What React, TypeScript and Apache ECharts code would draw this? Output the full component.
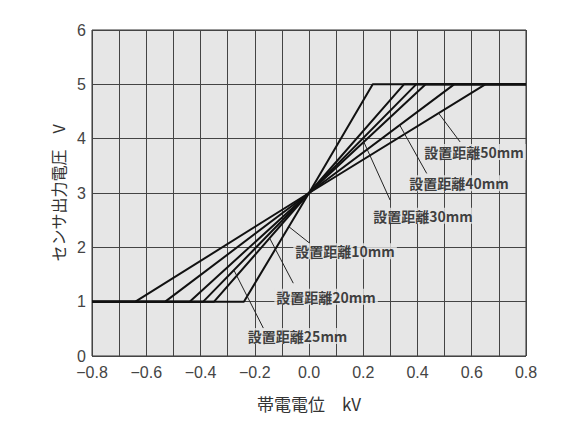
import { useEffect, useRef } from 'react';
import * as echarts from 'echarts';

// 設置距離ごとのセンサ出力特性
const distances = ['10mm', '20mm', '25mm', '30mm', '40mm', '50mm'];
// 出力が 1 V から立ち上がる帯電電位 (kV)
const riseStart = [-0.24, -0.35, -0.39, -0.44, -0.53, -0.64];
// 出力が 5 V に達する帯電電位 (kV)
const riseEnd = [0.235, 0.35, 0.395, 0.43, 0.535, 0.65];
const outLow = 1;
const outMid = 3;
const outHigh = 5;
const kvMin = -0.8;
const kvMax = 0.8;

// 引出線: 曲線上の出力値 anchorV から end まで、ラベル中心 at
const notes = [
  { i: 0, anchorV: 2.38, end: [0.004, 2.07], at: [0.133, 1.93] },
  { i: 1, anchorV: 2.17, end: [-0.058, 1.34], at: [0.063, 1.09] },
  { i: 2, anchorV: 1.58, end: [-0.168, 0.51], at: [-0.042, 0.37] },
  { i: 3, anchorV: 3.94, end: [0.299, 2.87], at: [0.42, 2.58] },
  { i: 4, anchorV: 4.25, end: [0.434, 3.36], at: [0.553, 3.18] },
  { i: 5, anchorV: 4.47, end: [0.557, 3.94], at: [0.608, 3.755] },
];

const pointOn = (i: number, v: number) =>
  v >= outMid
    ? (riseEnd[i] * (v - outMid)) / (outHigh - outMid)
    : (riseStart[i] * (outMid - v)) / (outMid - outLow);

const plotBg = '#e6e6e6';
const gridLine = { color: '#444', width: 1 };

export default function App() {
  const el = useRef<HTMLDivElement>(null);

  useEffect(() => {
    if (!el.current) return;
    const chart = echarts.init(el.current, null, { renderer: 'svg' });

    const curves = distances.map((d, i) => ({
      type: 'line',
      name: d,
      data: [
        [kvMin, outLow],
        [riseStart[i], outLow],
        [0, outMid],
        [riseEnd[i], outHigh],
        [kvMax, outHigh],
      ],
      symbol: 'none',
      silent: true,
      z: 3,
      lineStyle: { color: '#111', width: 2 },
    }));

    chart.setOption({
      animation: false,
      grid: {
        left: 92,
        top: 30,
        right: 57,
        bottom: 81,
        show: true,
        backgroundColor: plotBg,
        borderColor: '#333',
        borderWidth: 1,
      },
      xAxis: {
        type: 'value',
        min: kvMin,
        max: kvMax,
        interval: 0.2,
        name: '帯電電位　kV',
        nameLocation: 'middle',
        nameGap: 39,
        nameTextStyle: {
          fontSize: 17,
          color: '#333',
          fontFamily: 'Noto Sans CJK JP',
        },
        axisLine: { show: false },
        axisTick: { show: false },
        axisLabel: {
          fontSize: 16,
          color: '#444',
          margin: 8,
          fontFamily: 'Liberation Sans',
          formatter: (v: number) => (v < 0 ? '−' : '') + Math.abs(v).toFixed(1),
        },
        splitLine: { show: true, lineStyle: gridLine },
        minorTick: { show: false, splitNumber: 2 },
        minorSplitLine: { show: true, lineStyle: gridLine },
      },
      yAxis: {
        type: 'value',
        min: 0,
        max: 6,
        interval: 1,
        name: 'センサ出力電圧　V',
        nameLocation: 'middle',
        nameGap: 26,
        nameTextStyle: {
          fontSize: 16,
          color: '#333',
          fontFamily: 'Noto Sans CJK JP',
        },
        axisLine: { show: false },
        axisTick: { show: false },
        axisLabel: {
          fontSize: 16,
          color: '#444',
          margin: 6,
          fontFamily: 'Liberation Sans',
        },
        splitLine: { show: true, lineStyle: gridLine },
      },
      series: [
        ...curves,
        {
          type: 'lines',
          coordinateSystem: 'cartesian2d',
          silent: true,
          z: 4,
          lineStyle: { color: '#222', width: 1, opacity: 1 },
          data: notes.map((n) => ({
            coords: [[pointOn(n.i, n.anchorV), n.anchorV], n.end],
          })),
        },
        {
          type: 'scatter',
          silent: true,
          z: 5,
          symbolSize: 1,
          itemStyle: { color: 'transparent' },
          label: {
            show: true,
            position: 'inside',
            formatter: '{b}',
            fontSize: 14,
            fontWeight: 'bold',
            color: '#111',
            fontFamily: 'Noto Sans CJK JP',
            backgroundColor: plotBg,
            padding: [1, 2],
          },
          data: notes.map((n) => ({
            name: '設置距離' + distances[n.i],
            value: n.at,
          })),
        },
      ],
    });

    return () => chart.dispose();
  }, []);

  return (
    <div
      ref={el}
      style={{ position: 'fixed', left: 0, top: 0, width: 583, height: 437, background: '#fff' }}
    />
  );
}
